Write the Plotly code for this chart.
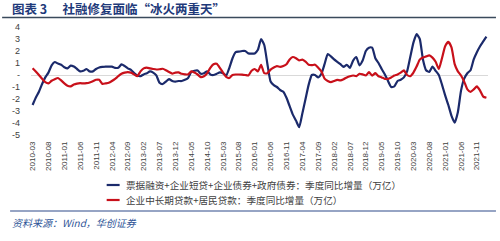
import plotly.graph_objects as go
import pandas as pd

# ---- data (monthly, 2010-03 .. 2022-02) ----
months = pd.period_range("2010-03", periods=144, freq="M").strftime("%Y-%m").tolist()

series_blue_name = "票据融资+企业短贷+企业债券+政府债券：季度同比增量（万亿）"
series_red_name = "企业中长期贷款+居民贷款：季度同比增量（万亿）"

blue = [-2.5, -1.9, -1.4, -0.75, -0.2, 0.2, 0.8, 1.08, 0.95, 0.85,
        0.65, 0.55, 0.78, 0.7, 0.5, 0.3, 0.35, 0.5, 0.3, 0.3,
        0.5, 0.62, 0.67, 0.7, 0.7, 0.7, 0.6, 0.6, 0.88, 0.75,
        0.55, 0.42, 0.15, -0.05, -0.1, 0.05, 0.15, 0.3, 0.2, -0.04,
        -0.65, -0.75, -0.55, -0.35, -0.5, -0.55, -0.5, -0.5, -0.4, -0.25,
        0.25, 0.35, 0.38, 0.1, 0.15, 0.3, 0.05, 0.0, 0.1, 0.22,
        0.15, -0.04, 0.6, 1.4, 1.9, 1.95, 2.0, 2.0, 1.8, 1.78,
        1.8, 2.1, 3.0, 2.5, 0.9, -0.55, -0.85, -1.0, -1.25, -1.4,
        -1.9, -2.6, -3.3, -3.8, -4.35, -3.2, -2.0, -0.8, 0.0, 0.0,
        -0.2, 0.1, 0.9, 1.75, 1.55, 1.3, 1.1, 0.9, 0.68, 0.85,
        0.6, 1.2, 1.5, 0.8, 1.2, 2.0, 2.28, 2.28, 1.4, 1.0,
        0.5, 0.05, -0.5, -1.0, -0.95, -0.5, -0.4, -0.2, 0.3, 1.5,
        2.7, 3.4, 3.0, 1.3, 0.4, 0.25, 0.7, 0.35, 0.0, -0.8,
        -1.7, -2.5, -3.4, -3.97, -3.1, -1.3, -0.3, 0.15, 0.4, 1.3,
        1.9, 2.4, 2.8, 3.2]

red = [0.57, 0.3, 0.0, -0.32, -0.6, -0.7, -0.48, -0.35, -0.25, -0.45,
       -0.7, -0.9, -0.95, -0.8, -0.72, -0.68, -0.7, -0.68, -0.62, -0.52,
       -0.4, -0.4, -0.74, -0.7, -0.65, -0.5, -0.32, -0.1, 0.1, 0.2,
       0.24, 0.2, 0.05, -0.1, 0.3, 0.55, 0.62, 0.55, 0.5, 0.46,
       0.48, 0.52, 0.4, 0.25, 0.12, 0.2, 0.22, 0.1, 0.06, 0.05,
       0.3, 0.2, 0.04, -0.18, -0.1, 0.15, 0.6, 0.9, 0.94, 0.6,
       0.2, -0.15, -0.25, 0.0, 0.04, 0.04, 0.03, 0.0, -0.04, 0.35,
       0.5, 0.3, 0.85, 0.15, 0.15, 0.45, 0.62, 0.74, 0.68, 0.75,
       0.9, 1.3, 1.5, 1.4, 1.22, 1.28, 1.12, 0.85, 0.82, 0.86,
       0.6, 0.3, -0.3, -0.5, -0.6, -0.5, -0.4, -0.45, -0.35, -0.2,
       -0.1, -0.04, -0.1, 0.1, 0.05, -0.04, 0.24, -0.05, 0.15, -0.1,
       -0.2, -0.32, -0.32, -0.2, -0.05, 0.05, 0.2, 0.38, 0.0, -0.1,
       0.2, 0.7, 1.28, 1.45, 1.55, 1.64, 1.45, 1.1, 0.5, 1.4,
       2.4, 2.76, 2.3, 0.9, 0.3, -0.04, -0.55, -1.2, -1.4, -1.2,
       -0.95, -1.3, -1.8, -1.9]

x_ticks = months[::5]
y_ticks = [4, 3, 2, 1, 0, -1, -2, -3, -4, -5]
y_ticktext = ["4", "3", "2", "1", "-", "-1", "-2", "-3", "-4", "-5"]

title_text = "图表 3　 社融修复面临“冰火两重天”"
source_text = "资料来源：Wind，华创证券"

BLUE = "#1B2A6B"
RED = "#C8101A"
FONT = "Noto Sans CJK SC"

W, H = 500, 241
L, R, T, B = 29, 12, 27, 106
PW, PH = W - L - R, H - T - B


def px(x):
    return (x - L) / PW


def py(y):
    return (H - B - y) / PH


fig = go.Figure()
fig.add_trace(go.Scatter(x=months, y=blue, mode="lines", name=series_blue_name,
                         line=dict(color=BLUE, width=2.2, shape="spline", smoothing=0.5),
                         showlegend=False))
fig.add_trace(go.Scatter(x=months, y=red, mode="lines", name=series_red_name,
                         line=dict(color=RED, width=2.2, shape="spline", smoothing=0.5),
                         showlegend=False))

fig.update_layout(
    width=W, height=H,
    margin=dict(l=L, r=R, t=T, b=B, pad=0),
    paper_bgcolor="white", plot_bgcolor="white",
    font=dict(family=FONT, color="#404040"),
    xaxis=dict(type="category", range=[-0.5, len(months) - 0.5],
               tickmode="array", tickvals=x_ticks, ticktext=x_ticks,
               tickangle=-90, tickfont=dict(size=8, color="#404040", family="Liberation Sans"),
               showgrid=False, showline=False, zeroline=False, ticks="",
               ticklabelstandoff=4),
    yaxis=dict(range=[-5, 4], tickmode="array", tickvals=y_ticks, ticktext=y_ticktext,
               tickfont=dict(size=9, color="#404040", family="Liberation Sans"),
               showgrid=False, showline=False, zeroline=True,
               zerolinecolor="#D9D9D9", zerolinewidth=1, ticks="",
               ticklabelstandoff=10),
)

shapes = []
annotations = []
# title and rule beneath it
annotations.append(dict(text="<b>" + title_text + "</b>", xref="paper", yref="paper",
                        x=px(8), y=py(9), xanchor="left", yanchor="middle", showarrow=False,
                        font=dict(size=12.5, color="#1F3A7A", family=FONT)))
shapes.append(dict(type="line", xref="paper", yref="paper", x0=px(0), x1=px(496),
                   y0=py(17.5), y1=py(17.5), line=dict(color="#3A4A5C", width=1.5)))

# manual legend
for yy, col, name in [(185, BLUE, series_blue_name), (200, RED, series_red_name)]:
    shapes.append(dict(type="line", xref="paper", yref="paper", x0=px(105), x1=px(118),
                       y0=py(yy), y1=py(yy), line=dict(color=col, width=2.2)))
    annotations.append(dict(text=name, xref="paper", yref="paper", x=px(122), y=py(yy),
                            xanchor="left", yanchor="middle", showarrow=False,
                            font=dict(size=9.6, color="#404040", family=FONT)))

# separator and source
shapes.append(dict(type="line", xref="paper", yref="paper", x0=px(8), x1=px(496),
                   y0=py(211), y1=py(211), line=dict(color="#2E4A8A", width=1.2)))
annotations.append(dict(text="<i>" + source_text + "</i>", xref="paper", yref="paper",
                        x=px(8), y=py(222), xanchor="left", yanchor="middle", showarrow=False,
                        font=dict(size=10, color="#2F5597", family=FONT)))

fig.update_layout(shapes=shapes, annotations=annotations)
fig.write_html("out.html")
